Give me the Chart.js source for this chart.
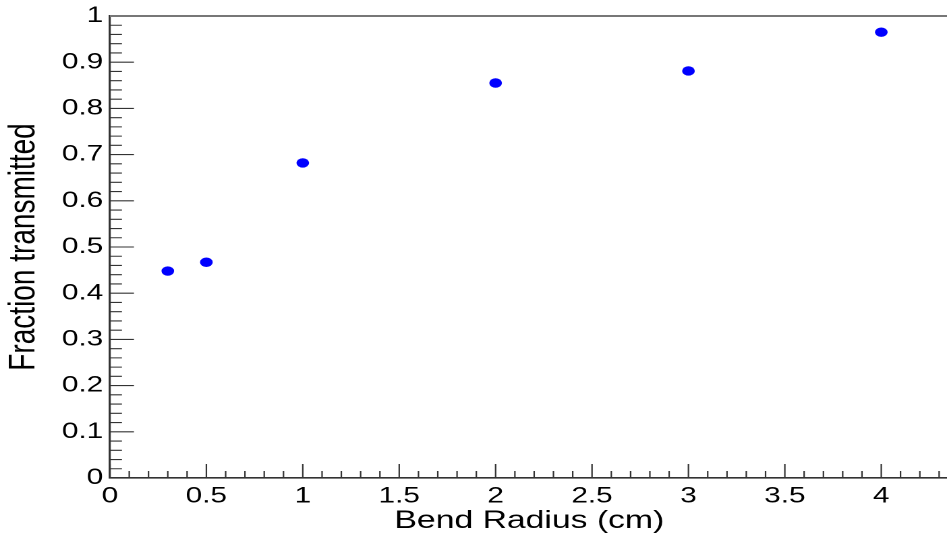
<!DOCTYPE html>
<html>
<head>
<meta charset="utf-8">
<script src="https://cdn.jsdelivr.net/npm/chart.js@4"></script>
<style>
  html, body { margin: 0; padding: 0; background: #fff; overflow: hidden; }
  /* the original picture is stretched sideways, so stretch the whole chart */
  #wrap { width: 708px; height: 539px; transform: scaleX(1.349); transform-origin: 0 0; }
</style>
</head>
<body>
<div id="wrap"><canvas id="chart" width="708" height="539"></canvas></div>
<script>
// data
const bendRadius = [0.3, 0.5, 1, 2, 3, 4];
const fractionTransmitted = [0.448, 0.467, 0.682, 0.855, 0.881, 0.965];

// tick labels
const xTicks = [0, 0.5, 1, 1.5, 2, 2.5, 3, 3.5, 4];
const yTicks = [0, 0.1, 0.2, 0.3, 0.4, 0.5, 0.6, 0.7, 0.8, 0.9, 1];

const FONT = '"Liberation Sans", Arial, sans-serif';

// ROOT style: ticks point inwards, frame line on top
const frameTicks = {
    id: 'frameTicks',
    afterDatasetsDraw(chart) {
        const { ctx, chartArea } = chart;
        const x = chart.scales.x;
        const y = chart.scales.y;
        ctx.save();
        ctx.strokeStyle = '#333';
        ctx.lineWidth = 1.1;
        ctx.beginPath();
        // x axis ticks, minor every 0.1
        for (let i = 0; i <= 43; i++) {
            const px = x.getPixelForValue(i / 10);
            const len = i % 5 === 0 ? 14 : 7;
            ctx.moveTo(px, chartArea.bottom);
            ctx.lineTo(px, chartArea.bottom - len);
        }
        // y axis ticks, minor every 0.02
        for (let i = 0; i <= 50; i++) {
            const py = y.getPixelForValue(i / 50);
            const len = i % 5 === 0 ? 17.8 : 8.9;
            ctx.moveTo(chartArea.left, py);
            ctx.lineTo(chartArea.left + len, py);
        }
        ctx.stroke();
        // top frame line
        ctx.strokeStyle = '#777';
        ctx.lineWidth = 2;
        ctx.beginPath();
        ctx.moveTo(chartArea.left, chartArea.top);
        ctx.lineTo(chartArea.right, chartArea.top);
        ctx.stroke();
        ctx.restore();
    }
};

new Chart(document.getElementById('chart'), {
    type: 'scatter',
    data: {
        datasets: [{
            label: 'Fraction transmitted',
            data: bendRadius.map((r, i) => ({ x: r, y: fractionTransmitted[i] })),
            backgroundColor: '#0000ff',
            borderWidth: 0,
            pointRadius: 4.7,
            pointHoverRadius: 4.7
        }]
    },
    options: {
        responsive: false,
        animation: false,
        devicePixelRatio: 2,
        layout: { padding: { left: 0, top: 16, right: 0, bottom: 0 } },
        plugins: {
            legend: { display: false },
            tooltip: { enabled: false }
        },
        scales: {
            x: {
                type: 'linear',
                min: 0,
                max: 4.35,
                afterBuildTicks: (scale) => { scale.ticks = xTicks.map(v => ({ value: v })); },
                afterFit: (scale) => { scale.height = 61; },
                ticks: {
                    padding: 5,
                    color: '#000',
                    font: { family: FONT, size: 22 },
                    maxRotation: 0,
                    callback: (v) => String(v)
                },
                grid: { display: true, drawOnChartArea: false, drawTicks: false },
                border: { display: true, color: '#333', width: 1.6 },
                title: {
                    display: true,
                    text: 'Bend Radius (cm)',
                    color: '#000',
                    font: { family: FONT, size: 25 },
                    padding: { top: 0, bottom: 3 }
                }
            },
            y: {
                type: 'linear',
                min: 0,
                max: 1,
                afterBuildTicks: (scale) => { scale.ticks = yTicks.map(v => ({ value: v })); },
                afterFit: (scale) => { scale.width = 81.5; scale.paddingTop = 0; scale.paddingBottom = 0; },
                ticks: {
                    padding: 5,
                    color: '#000',
                    font: { family: FONT, size: 22, lineHeight: 1 },
                    callback: (v) => String(v)
                },
                grid: { display: true, drawOnChartArea: false, drawTicks: false },
                border: { display: true, color: '#333', width: 1.6 },
                title: {
                    display: true,
                    text: 'Fraction transmitted',
                    color: '#000',
                    font: { family: FONT, size: 28 },
                    padding: { top: 1, bottom: 0 }
                }
            }
        }
    },
    plugins: [frameTicks]
});
</script>
</body>
</html>
